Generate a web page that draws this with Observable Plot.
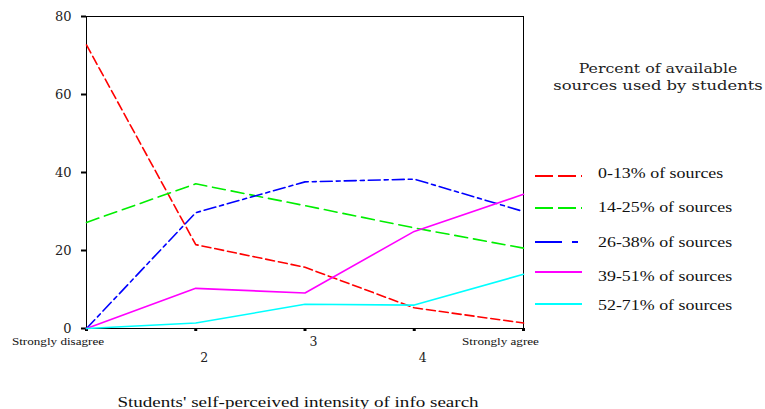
<!DOCTYPE html>
<html>
<head>
<meta charset="utf-8">
<script src="https://cdn.jsdelivr.net/npm/d3@7"></script>
<script src="https://cdn.jsdelivr.net/npm/@observablehq/plot@0.6"></script>
<style>
  html, body { margin: 0; padding: 0; background: #fff; }
  #chart svg { display: block; }
</style>
</head>
<body>
<div id="chart"></div>
<script>
// ---- data ----
const xValues = [1, 2, 3, 4, 5];
const xLabels = ["Strongly disagree", "2", "3", "4", "Strongly agree"];
const yTicks = [0, 20, 40, 60, 80];
const legendTitle = ["Percent of available", "sources used by students"];
const axisTitle = "Students' self-perceived intensity of info search";
const seriesNames = ["0-13% of sources", "14-25% of sources", "26-38% of sources", "39-51% of sources", "52-71% of sources"];
const src0to13 = [72.7, 21.5, 15.7, 5.3, 1.4];
const src14to25 = [27.2, 37.1, 31.5, 25.8, 20.6];
const src26to38 = [0, 29.7, 37.6, 38.3, 30.0];
const src39to51 = [0, 10.3, 9.1, 24.9, 34.4];
const src52to71 = [0, 1.4, 6.2, 6.0, 13.9];
const seriesValues = [src0to13, src14to25, src26to38, src39to51, src52to71];

// ---- styles ----
const colors = ["#ff0000", "#00ee00", "#0000ff", "#ff00ff", "#00ffff"];
const lineDash = ["9,4", "13,6", "12,4,4,4", null, null];
const legendDash = ["18,5", "18,5", "27,10,6,10", null, null];

const rows = seriesNames.map((name, s) =>
  xValues.map((x, i) => ({x, y: seriesValues[s][i], series: name}))
);

const W = 765, H = 409;
const mL = 86, mR = 242, mT = 16, mB = 81;
const serif = "'Liberation Serif', 'Times New Roman', serif";
const dserif = "'DejaVu Serif', serif";

function decor(index, scales) {
  const g = d3.create("svg:g");
  const x = scales.x;
  const baseY = H - mB;
  // x tick labels
  xLabels.forEach((lab, i) => {
    const isEnd = i === 0 || i === xLabels.length - 1;
    if (isEnd) {
      const cx = x(xValues[i]) + (i === 0 ? -28 : -22.5);
      g.append("text")
        .attr("transform", `translate(${cx},${baseY + 16.5}) scale(1.25,1)`)
        .attr("text-anchor", "middle")
        .attr("font-family", serif)
        .attr("font-size", 10.5)
        .attr("fill", "#111")
        .text(lab);
    } else {
      const row = i % 2 === 1 ? 1 : 0;
      g.append("text")
        .attr("x", x(xValues[i]) + 9)
        .attr("y", baseY + (row ? 34.3 : 17.7))
        .attr("text-anchor", "middle")
        .attr("font-family", dserif)
        .attr("font-size", 12.5)
        .attr("fill", "#222")
        .text(lab);
    }
  });
  // axis title
  g.append("text")
    .attr("transform", `translate(${(mL + (W - mR)) / 2 - 6.5},${407}) scale(1.36,1)`)
    .attr("text-anchor", "middle")
    .attr("font-family", serif)
    .attr("font-size", 14)
    .attr("fill", "#111")
    .text(axisTitle);
  // legend title
  const titleBase = [73, 90];
  const titleScale = [1.215, 1.26];
  legendTitle.forEach((t, i) => {
    g.append("text")
      .attr("transform", `translate(658,${titleBase[i]}) scale(${titleScale[i]},1)`)
      .attr("text-anchor", "middle")
      .attr("font-family", dserif)
      .attr("font-size", 13)
      .attr("fill", "#222")
      .text(t);
  });
  // legend entries
  const lineY = [176, 208, 242, 272, 304];
  const textBase = [178, 212, 247, 281, 310];
  seriesNames.forEach((name, i) => {
    g.append("line")
      .attr("x1", 535).attr("x2", 582)
      .attr("y1", lineY[i]).attr("y2", lineY[i])
      .attr("stroke", colors[i])
      .attr("stroke-width", 2)
      .attr("stroke-dasharray", legendDash[i]);
    g.append("text")
      .attr("transform", `translate(598,${textBase[i]}) scale(1.28,1)`)
      .attr("text-anchor", "start")
      .attr("font-family", serif)
      .attr("font-size", 14)
      .attr("fill", "#111")
      .text(name);
  });
  return g.node();
}

const lineMarks = rows.map((data, s) =>
  Plot.line(data, {
    x: "x", y: "y",
    stroke: colors[s],
    strokeWidth: 1.6,
    strokeDasharray: lineDash[s] || undefined
  })
);

const chart = Plot.plot({
  width: W,
  height: H,
  marginLeft: mL,
  marginRight: mR,
  marginTop: mT,
  marginBottom: mB,
  style: {background: "#fff", overflow: "visible"},
  x: {type: "linear", domain: [1, 5], label: null},
  y: {domain: [0, 80], label: null},
  marks: [
    Plot.frame({stroke: "black", strokeWidth: 1}),
    Plot.axisY(yTicks, {
      tickSize: 5, tickPadding: 10, strokeWidth: 2,
      fontFamily: dserif, fontSize: 13, fill: "#222", label: null
    }),
    Plot.axisX(xValues, {
      tickSize: 3, strokeWidth: 3, tickFormat: () => "", label: null
    }),
    ...lineMarks,
    decor
  ]
});

document.getElementById("chart").appendChild(chart);
</script>
</body>
</html>
